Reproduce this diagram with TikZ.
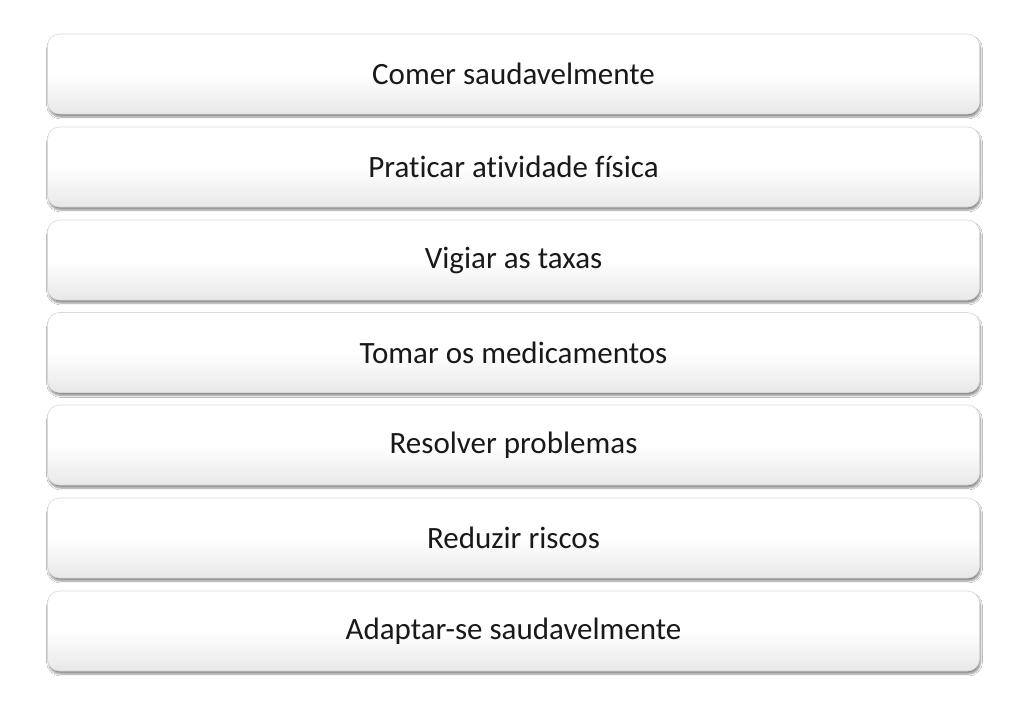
\documentclass[tikz,border=0pt]{standalone}
\usepackage{fontspec}
\setmainfont{Carlito}[RawFeature={-liga;-dlig;-clig}]
\usetikzlibrary{shadows.blur}
\begin{document}
\begin{tikzpicture}[x=1pt,y=-1pt,
  itembox/.style={rounded corners=12pt, draw=gray!30, line width=0.6pt,
    top color=white, bottom color=gray!18, middle color=white,
    shading angle=0,
    minimum width=932pt, minimum height=80pt, inner sep=0pt,
    font=\fontsize{31}{36}\selectfont, text=black!90,
    blur shadow={shadow xshift=1pt, shadow yshift=-3pt, shadow blur steps=6, shadow opacity=45}}]
\useasboundingbox (0,0) rectangle (1024,706);
\fill[white] (0,0) rectangle (1024,706);
\node[itembox] (b1) at (513.5,74) {Comer saudavelmente};
\node[itembox] (b2) at (513.5,167) {Praticar atividade física};
\node[itembox] (b3) at (513.5,260) {Vigiar as taxas};
\node[itembox] (b4) at (513.5,352.5) {Tomar os medicamentos};
\node[itembox] (b5) at (513.5,445) {Resolver problemas};
\node[itembox] (b6) at (513.5,538) {Reduzir riscos};
\node[itembox] (b7) at (513.5,631) {Adaptar-se saudavelmente};
\end{tikzpicture}
\end{document}
